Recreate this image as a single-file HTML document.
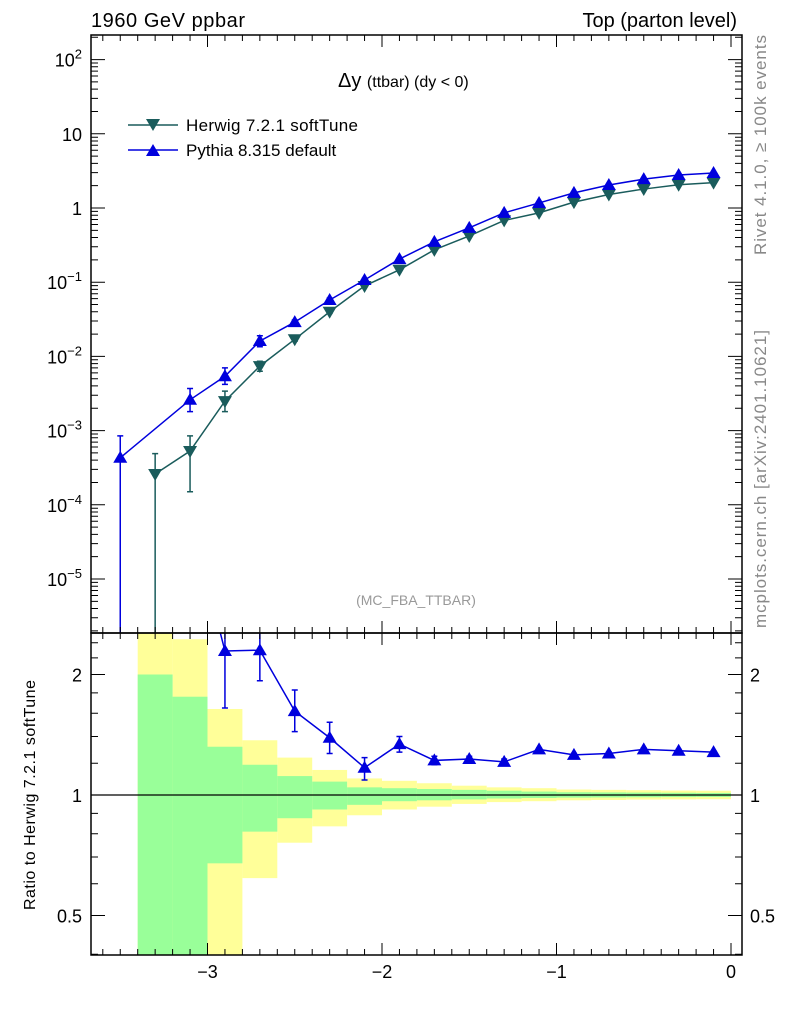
<!DOCTYPE html>
<html><head><meta charset="utf-8"><style>
html,body{margin:0;background:#fff;overflow:hidden;width:786px;height:1024px;}
svg{display:block;font-family:"Liberation Sans",sans-serif;}
</style></head><body>
<svg id="c" width="786" height="1024" xmlns="http://www.w3.org/2000/svg">
<text x="91" y="27" font-size="20" textLength="154">1960 GeV ppbar</text>
<text x="737" y="27" font-size="20" text-anchor="end">Top (parton level)</text>
<text x="338" y="87" font-size="20">Δy <tspan font-size="16">(ttbar) (dy &lt; 0)</tspan></text>
<text x="416" y="605" font-size="14" fill="#999" text-anchor="middle">(MC_FBA_TTBAR)</text>
<text transform="translate(766,255) rotate(-90)" font-size="17" fill="#888" textLength="220">Rivet 4.1.0, ≥ 100k events</text>
<text transform="translate(766,628) rotate(-90)" font-size="17" fill="#888" textLength="298">mcplots.cern.ch [arXiv:2401.10621]</text>
<text transform="translate(35,910) rotate(-90)" font-size="16" textLength="230">Ratio to Herwig 7.2.1 softTune</text>
<g id="legend">
<g><line x1="128" y1="125" x2="178" y2="125" stroke="#1a5c5c" stroke-width="1.5"/><path d="M146,119 L160,119 L153,131Z" fill="#1a5c5c"/><text x="186" y="131" font-size="17" textLength="172">Herwig 7.2.1 softTune</text></g>
<g><line x1="128" y1="150" x2="178" y2="150" stroke="#0000dd" stroke-width="1.5"/><path d="M146,156 L160,156 L153,144Z" fill="#0000dd"/><text x="186" y="156" font-size="17">Pythia 8.315 default</text></g>
</g>
<g id="main"></g><g id="ratio"></g><g id="axes"></g>
</svg>
<script>
const xCenters=[-3.5,-3.3,-3.1,-2.9,-2.7,-2.5,-2.3,-2.1,-1.9,-1.7,-1.5,-1.3,-1.1,-0.9,-0.7,-0.5,-0.3,-0.1];
const herwig=[null,2.6e-4,5.3e-4,2.5e-3,7.4e-3,0.017,0.040,0.089,0.147,0.273,0.42,0.68,0.86,1.2,1.52,1.8,2.06,2.2];
const herwigHi=[null,4.9e-4,8.5e-4,3.4e-3,8.6e-3,0.018,0.042,0.092,0.151,0.278,0.425,0.687,0.868,1.21,1.53,1.81,2.07,2.21];
const herwigLo=[null,1e-9,1.5e-4,1.8e-3,6.3e-3,0.016,0.038,0.086,0.143,0.268,0.415,0.673,0.852,1.19,1.51,1.79,2.05,2.19];
const pythia=[4.3e-4,null,2.6e-3,5.4e-3,0.0161,0.029,0.0575,0.107,0.205,0.35,0.54,0.86,1.17,1.6,2.04,2.45,2.78,2.96];
const pythiaHi=[8.5e-4,null,3.7e-3,7e-3,0.019,0.031,0.061,0.112,0.212,0.356,0.547,0.868,1.18,1.61,2.05,2.46,2.79,2.97];
const pythiaLo=[1e-9,null,1.8e-3,4.2e-3,0.0135,0.027,0.054,0.102,0.198,0.344,0.533,0.852,1.16,1.59,2.03,2.44,2.77,2.95];
const ratioVal=[null,null,null,2.29,2.30,1.62,1.39,1.17,1.34,1.22,1.23,1.21,1.30,1.26,1.27,1.30,1.29,1.28];
const ratioHi=[null,null,null,3.0,2.7,1.83,1.52,1.24,1.40,1.25,1.25,1.23,1.31,1.27,1.28,1.31,1.30,1.29];
const ratioLo=[null,null,null,1.65,1.93,1.44,1.27,1.09,1.28,1.19,1.21,1.19,1.29,1.25,1.26,1.29,1.28,1.27];
const bandEdges=[-3.4,-3.2,-3.0,-2.8,-2.6,-2.4,-2.2,-2.0,-1.8,-1.6,-1.4,-1.2,-1.0,-0.8,-0.6,-0.4,-0.2,0];
const yellowUp=[3.0,2.45,1.64,1.37,1.24,1.155,1.1,1.085,1.07,1.055,1.045,1.04,1.032,1.03,1.028,1.026,1.025];
const yellowDn=[0.01,0.01,0.01,0.62,0.76,0.835,0.89,0.92,0.935,0.95,0.96,0.965,0.97,0.972,0.974,0.975,0.976];
const greenUp=[2.0,1.76,1.32,1.19,1.115,1.08,1.045,1.04,1.035,1.03,1.025,1.02,1.016,1.015,1.014,1.013,1.012];
const greenDn=[0.01,0.01,0.675,0.81,0.875,0.92,0.945,0.965,0.97,0.975,0.98,0.983,0.985,0.986,0.987,0.988,0.989];
const xTicks=[-3,-2,-1,0];
const mainTickExp=[-5,-4,-3,-2,-1,0,1,2];
const ratioTicks=[0.5,1,2];

const NS='http://www.w3.org/2000/svg';
const L=91,R=742,MT=35,MB=633,RB=955;
const X=v=>731+(v)*174.5;
const Ym=v=>208-Math.log10(v)*74.2;
const Yr=v=>795-Math.log2(v)*120.5;
function el(p,t,a){const e=document.createElementNS(NS,t);for(const k in a)e.setAttribute(k,a[k]);p.appendChild(e);return e;}
const svg=document.getElementById('c');
const defs=el(svg,'defs',{});
const c1=el(defs,'clipPath',{id:'cm'});el(c1,'rect',{x:L,y:MT,width:R-L,height:MB-MT});
const c2=el(defs,'clipPath',{id:'cr'});el(c2,'rect',{x:L,y:MB,width:R-L,height:RB-MB});
const main=document.getElementById('main');main.setAttribute('clip-path','url(#cm)');
const ratio=document.getElementById('ratio');ratio.setAttribute('clip-path','url(#cr)');
const axes=document.getElementById('axes');
function tri(g,x,y,up,col){const s=7;const d=up?`M${x-s},${y+5} L${x+s},${y+5} L${x},${y-7}Z`:`M${x-s},${y-5} L${x+s},${y-5} L${x},${y+7}Z`;return el(g,'path',{d,fill:col});}
function series(g,vals,hi,lo,col,up,Yf,name){
  let pts=[];vals.forEach((v,i)=>{if(v!=null)pts.push([X(xCenters[i]),Yf(Math.max(v,1e-9))]);});
  const pl=el(g,'polyline',{points:pts.map(p=>p.join(',')).join(' '),fill:'none',stroke:col,'stroke-width':1.5});
  
  
  vals.forEach((v,i)=>{if(v==null)return;const x=X(xCenters[i]);
    const eb=el(g,'path',{d:`M${x},${Yf(hi[i])} L${x},${Yf(lo[i])} M${x-3},${Yf(hi[i])} L${x+3},${Yf(hi[i])} M${x-3},${Yf(lo[i])} L${x+3},${Yf(lo[i])}`,stroke:col,'stroke-width':1.5,fill:'none'});
    
    
    const m=tri(g,x,Yf(v),up,col);
    
    
  });
}
series(main,herwig,herwigHi,herwigLo,'#1a5c5c',false,Ym,'herwig');
series(main,pythia,pythiaHi,pythiaLo,'#0000dd',true,Ym,'pythia');
for(let i=0;i<yellowUp.length;i++){const x0=X(bandEdges[i]),x1=X(bandEdges[i+1]);
  const y=el(ratio,'rect',{x:x0,y:Yr(yellowUp[i]),width:x1-x0,height:Yr(yellowDn[i])-Yr(yellowUp[i]),fill:'#ffff99'});
  
  
}
for(let i=0;i<greenUp.length;i++){const x0=X(bandEdges[i]),x1=X(bandEdges[i+1]);
  const g=el(ratio,'rect',{x:x0,y:Yr(greenUp[i]),width:x1-x0,height:Yr(greenDn[i])-Yr(greenUp[i]),fill:'#99ff99'});
  
  
}
const one=el(ratio,'line',{x1:L,x2:R,y1:Yr(1),y2:Yr(1),stroke:'#000','stroke-width':1.2});


const rv=ratioVal.slice();rv[2]=5;const rh=ratioHi.slice();rh[2]=5;const rl=ratioLo.slice();rl[2]=5;
series(ratio,rv,rh,rl,'#0000dd',true,Yr,'pythia-ratio');
el(axes,'rect',{x:L,y:MT,width:R-L,height:MB-MT,fill:'none',stroke:'#000','stroke-width':1.5});
el(axes,'rect',{x:L,y:MB,width:R-L,height:RB-MB,fill:'none',stroke:'#000','stroke-width':1.5});
let tk='';
for(let v=-3.6;v<=0.06;v+=0.1){const x=X(v);const maj=Math.abs(v-Math.round(v))<0.01;const len=maj?12:6;
  tk+=`M${x},${MB} L${x},${MB-len} M${x},${MT} L${x},${MT+len} M${x},${RB} L${x},${RB-len} M${x},${MB} L${x},${MB+len} `;}
for(let e=-6;e<=2;e++){for(let k=1;k<10;k++){const y=Ym(k*Math.pow(10,e));if(y<MT||y>MB)continue;const len=k==1?14:7;
  tk+=`M${L},${y} L${L+len},${y} M${R},${y} L${R-len},${y} `;}}
[0.4,0.5,0.6,0.7,0.8,0.9,1,1.2,1.4,1.6,1.8,2,2.2,2.4].forEach(v=>{const y=Yr(v);const len=ratioTicks.includes(v)?14:7;
  tk+=`M${L},${y} L${L+len},${y} M${R},${y} L${R-len},${y} `;});
el(axes,'path',{d:tk,stroke:'#000','stroke-width':1,fill:'none'});
xTicks.forEach(v=>{const t=el(axes,'text',{x:X(v),y:978,'font-size':18,'text-anchor':'middle'});t.textContent=(v<0?'−':'')+Math.abs(v);
  
  });
mainTickExp.forEach(e=>{const y=Ym(Math.pow(10,e));let t=el(axes,'text',{x:82,y:y+7,'font-size':18,'text-anchor':'end'});
  if(e==0||e==1){t.textContent=e==0?'1':'10';}
  else{t.innerHTML='10<tspan dy="-8" font-size="13">'+(e<0?'−':'')+Math.abs(e)+'</tspan>';}
  
  });
ratioTicks.forEach(v=>{const y=Yr(v);
  const a=el(axes,'text',{x:82,y:y+7,'font-size':18,'text-anchor':'end'});a.textContent=String(v);
  
  
  const b=el(axes,'text',{x:750,y:y+7,'font-size':18});b.textContent=String(v);
  
  });
</script>
</body></html>
